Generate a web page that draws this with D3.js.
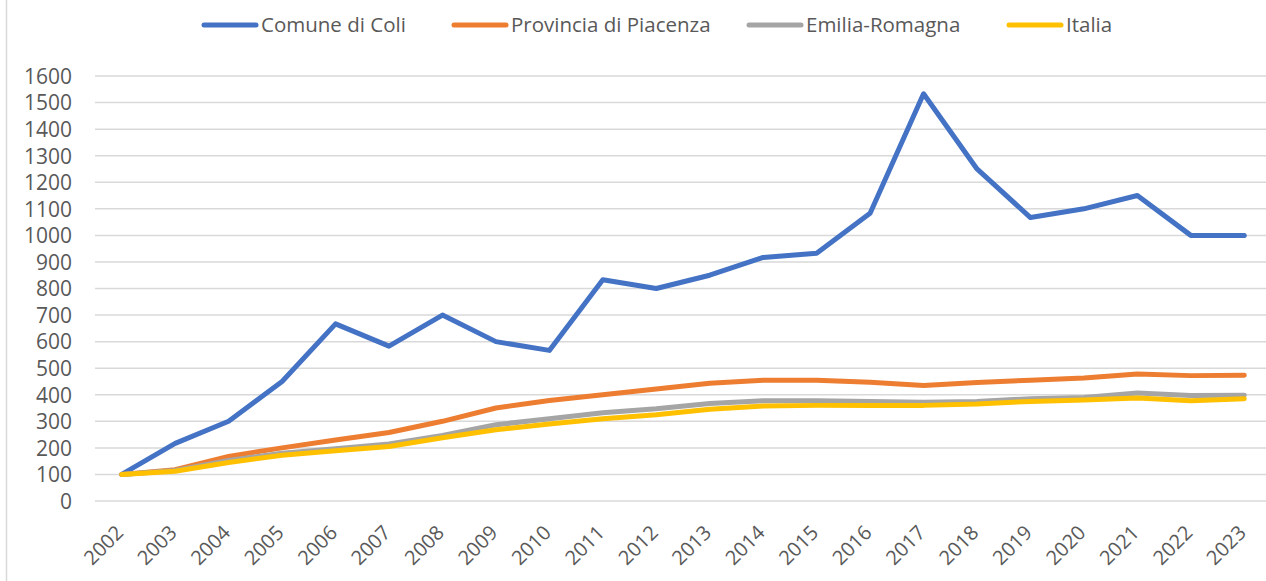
<!DOCTYPE html>
<html><head><meta charset="utf-8">
<script src="https://cdn.jsdelivr.net/npm/d3@7"></script>
<style>body{margin:0;background:#fff;}svg{display:block;}</style>
</head><body>
<svg id="c" width="1266" height="581"></svg>
<script>
const years = ["2002","2003","2004","2005","2006","2007","2008","2009","2010","2011","2012","2013","2014","2015","2016","2017","2018","2019","2020","2021","2022","2023"];
const seriesNames = ["Comune di Coli","Provincia di Piacenza","Emilia-Romagna","Italia"];
const coli = [100,217,300,450,667,583,700,600,567,833,800,850,917,933,1083,1533,1250,1067,1100,1150,1000,1000];
const piacenza = [100,118,168,200,230,258,300,350,378,400,422,443,455,455,447,435,446,455,463,478,472,473];
const emilia = [100,115,153,180,197,215,247,287,310,332,347,367,377,377,375,372,375,385,390,407,397,398];
const italia = [100,112,145,172,189,205,238,268,290,310,325,345,358,360,360,360,365,375,380,388,377,385];
const yTicks = [0,100,200,300,400,500,600,700,800,900,1000,1100,1200,1300,1400,1500,1600];
const colors = ["#4472C4","#ED7D31","#A5A5A5","#FFC000"];

const svg = d3.select("#c");
const font = "'Open Sans', sans-serif";
const pLeft = 95, pRight = 1271, pTop = 76, pBottom = 501;

const x = d3.scaleBand().domain(years).range([pLeft, pRight]);
const y = d3.scaleLinear().domain([0,1600]).range([pBottom, pTop]);

// frame line
svg.append("line").attr("x1",6.5).attr("x2",6.5).attr("y1",0).attr("y2",581)
  .attr("stroke","#d9d9d9").attr("stroke-width",1.5);

// gridlines
svg.append("g").selectAll("line").data(yTicks).join("line")
  .attr("x1",pLeft).attr("x2",pRight)
  .attr("y1",d=>y(d)).attr("y2",d=>y(d))
  .attr("stroke","#d9d9d9").attr("stroke-width",1.5);

// y axis labels
const yAxis = d3.axisLeft(y).tickValues(yTicks).tickFormat(d3.format("d")).tickSize(0).tickPadding(0);
const gy = svg.append("g").attr("transform",`translate(72,0)`).call(yAxis);
gy.select(".domain").remove();
gy.selectAll("text").attr("font-family",font).attr("font-size",21).attr("fill","#595959").attr("dy","0.35em");

// x axis labels
const xAxis = d3.axisBottom(x).tickSize(0).tickPadding(0);
const gx = svg.append("g").attr("transform",`translate(0,${pBottom})`).call(xAxis);
gx.select(".domain").remove();
gx.selectAll("text")
  .attr("font-family",font).attr("font-size",20).attr("fill","#595959")
  .attr("text-anchor","end").attr("dy","0.35em").attr("y",0)
  .attr("transform","translate(-2,28) rotate(-45)");

// lines
const data = [coli, piacenza, emilia, italia];
const line = d3.line().x((d,i)=>x(years[i]) + x.bandwidth()/2).y(d=>y(d));
svg.append("g").selectAll("path").data(data).join("path")
  .attr("d", line)
  .attr("fill","none")
  .attr("stroke",(d,i)=>colors[i])
  .attr("stroke-width",5)
  .attr("stroke-linejoin","round")
  .attr("stroke-linecap","round");

// legend
const legendX = [204, 454, 749, 1009];
const lg = svg.append("g").selectAll("g").data(seriesNames).join("g")
  .attr("transform",(d,i)=>`translate(${legendX[i]},25)`);
lg.append("line").attr("x1",0).attr("x2",52).attr("y1",0).attr("y2",0)
  .attr("stroke",(d,i)=>colors[i]).attr("stroke-width",5).attr("stroke-linecap","round");
lg.append("text").attr("x",57).attr("y",0).attr("dy","0.35em")
  .attr("font-family",font).attr("font-size",20.5).attr("fill","#595959")
  .text(d=>d);
</script>
</body></html>
